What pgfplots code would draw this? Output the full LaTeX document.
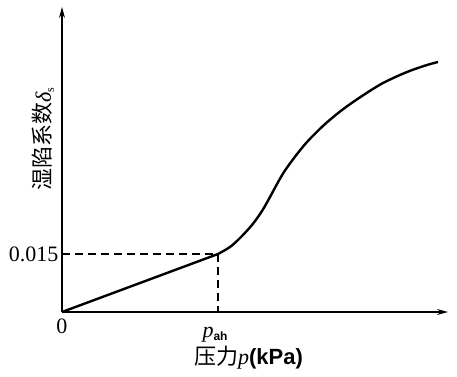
\documentclass[border=0pt]{standalone}
\usepackage{fontspec}
\setmainfont{Liberation Serif}
\newfontfamily\cjk{Noto Sans CJK SC}
\newfontfamily\sans{Liberation Sans}
\usepackage{pgfplots}
\pgfplotsset{compat=1.18}
\usetikzlibrary{arrows.meta}
\begin{document}
\begin{tikzpicture}
\path (-62pt,-64pt) rectangle (395pt,312pt);
\begin{axis}[
  at={(0,0)}, anchor=south west,
  scale only axis, width=386pt, height=305pt,
  xmin=0, xmax=386, ymin=0, ymax=305,
  clip=false,
  axis lines=left,
  axis line style={line width=1.2pt, -{Stealth[length=11pt,width=6pt]}},
  xtick={0}, xticklabels={0},
  extra x ticks={156},
  extra x tick labels={{\itshape p}\raisebox{-3pt}{\sans\fontsize{12}{12}\selectfont\bfseries ah}},
  extra x tick style={xticklabel style={yshift=-9pt, xshift=-3pt}},
  ytick={58}, yticklabels={0.015},
  major tick length=4pt,
  tick style={black, line width=0.8pt},
  tick align=inside,
  /pgf/number format/assume math mode=true,
  ticklabel style={font=\fontsize{22}{24}\selectfont},
  xticklabel style={yshift=-3pt},
  yticklabel style={xshift=0pt},
  xlabel={{\cjk 压力}\textit{p}{\sans\bfseries (kPa)}},
  xlabel style={at={(axis description cs:0.483,-0.149)}, anchor=center, font=\fontsize{22}{24}\selectfont},
  ylabel={{\cjk 湿陷系数}\textit{δ}\raisebox{-3pt}{\fontsize{12}{12}\selectfont s}},
  ylabel style={at={(axis description cs:-0.049,0.567)}, anchor=center, font=\fontsize{22}{24}\selectfont},
]
\addplot[black, line width=1.1pt, dash pattern=on 8pt off 5pt] coordinates {(0,58) (156,58) (156,0)};
\addplot[black, line width=2.4pt] coordinates {(0,0) (156,58)};
\addplot[black, line width=2.4pt, smooth, tension=0.5] coordinates {
(156,58) (168,65) (178,74) (190,87) (200,101) (208,115) (215,128) (222,140)
(232,154) (245,170) (262,187) (280,202) (300,216) (321,229) (345,240) (365,247) (376,250)};
\end{axis}
\end{tikzpicture}
\end{document}
